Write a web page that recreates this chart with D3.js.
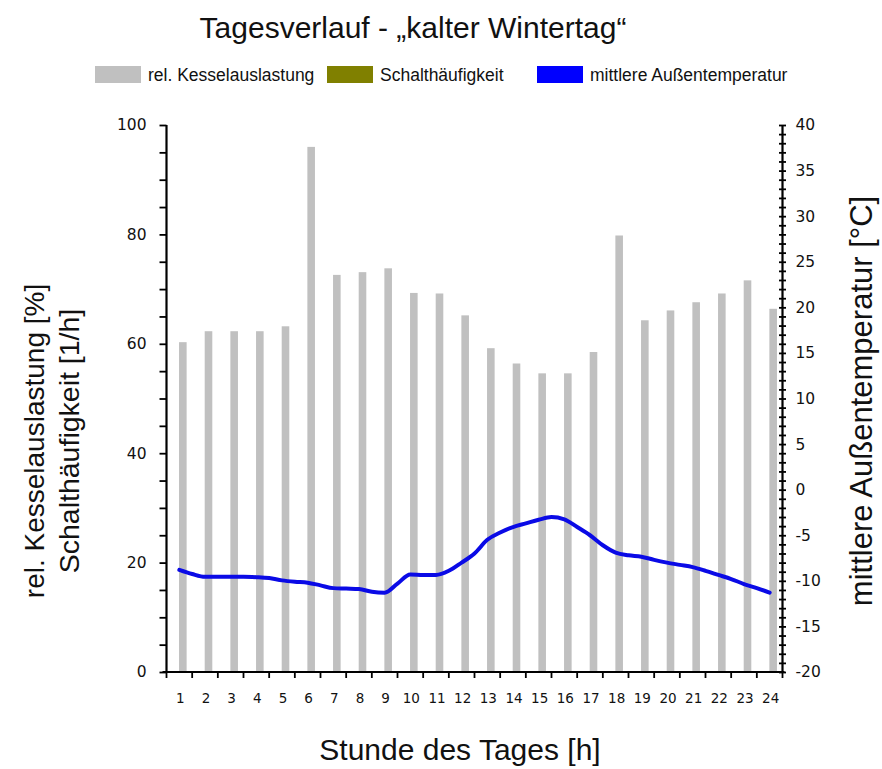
<!DOCTYPE html>
<html>
<head>
<meta charset="utf-8">
<script src="https://cdn.jsdelivr.net/npm/d3@7"></script>
<style>
  html, body { margin: 0; padding: 0; background: #fff; }
  svg { display: block; }
</style>
</head>
<body>
<svg id="chart" width="882" height="769"></svg>
<script>
// ---------- data ----------
const hours = ["1","2","3","4","5","6","7","8","9","10","11","12","13","14","15","16","17","18","19","20","21","22","23","24"];
const kesselauslastung = [60.3, 62.3, 62.3, 62.3, 63.2, 96.0, 72.6, 73.1, 73.8, 69.3, 69.2, 65.2,
                          59.2, 56.4, 54.6, 54.6, 58.5, 79.8, 64.3, 66.1, 67.6, 69.2, 71.6, 66.4];
// mean outside temperature, read every half hour
const tempTime = [1, 1.5, 2, 2.5, 3, 3.5, 4, 4.5, 5, 5.5, 6, 6.5, 7, 7.5, 8, 8.5, 9, 9.5, 10, 10.5, 11, 11.5,
                  12, 12.5, 13, 13.5, 14, 14.5, 15, 15.5, 16, 16.5, 17, 17.5, 18, 18.5, 19, 19.5, 20, 20.5,
                  21, 21.5, 22, 22.5, 23, 23.5, 24];
const temperatur = [-8.8, -9.25, -9.55, -9.55, -9.55, -9.55, -9.6, -9.7, -9.95, -10.1, -10.2, -10.5, -10.8, -10.85,
                    -10.9, -11.2, -11.3, -10.3, -9.3, -9.35, -9.35, -8.9, -8.0, -7.0, -5.5, -4.7, -4.1, -3.7,
                    -3.3, -3.0, -3.25, -4.1, -5.0, -6.1, -6.9, -7.2, -7.35, -7.7, -8.0, -8.25, -8.5, -8.9,
                    -9.35, -9.8, -10.35, -10.8, -11.3];
const leftTicks = [0, 20, 40, 60, 80, 100];
const rightTicks = [-20, -15, -10, -5, 0, 5, 10, 15, 20, 25, 30, 35, 40];
const legendItems = ["rel. Kesselauslastung", "Schalthäufigkeit", "mittlere Außentemperatur"];
const legendColors = ["#c0c0c0", "#808000", "#0000ff"];

// ---------- layout ----------
const svg = d3.select("#chart");
const L = 166.5, R = 782.5, T = 125, B = 672;
const textFont = "'Liberation Sans', Arial, sans-serif";
const tickFont = "'DejaVu Sans', Verdana, sans-serif";

const x = d3.scaleBand().domain(hours).range([L, R]).padding(0);
const xLin = d3.scaleLinear().domain([0.5, 24.5]).range([L, R]);
const yL = d3.scaleLinear().domain([0, 100]).range([B, T]);
const yR = d3.scaleLinear().domain([-20, 40]).range([B, T]);

// ---------- title ----------
svg.append("text").attr("x", 413).attr("y", 38).attr("text-anchor", "middle")
  .attr("font-family", textFont).attr("font-size", 30).attr("fill", "#111")
  .text("Tagesverlauf - „kalter Wintertag“");

// ---------- legend ----------
const legX = [95, 327, 537];
legendItems.forEach((t, i) => {
  svg.append("rect").attr("x", legX[i]).attr("y", 66).attr("width", 46).attr("height", 17)
    .attr("fill", legendColors[i]);
  svg.append("text").attr("x", legX[i] + 53).attr("y", 81)
    .attr("font-family", textFont).attr("font-size", 17.5).attr("fill", "#111").text(t);
});

// ---------- bars ----------
const barW = 7.6;
svg.append("g").selectAll("rect").data(kesselauslastung).join("rect")
  .attr("x", (d, i) => x(hours[i]) + x.bandwidth() / 2 - barW / 2 + 3.5)
  .attr("y", d => yL(d))
  .attr("width", barW)
  .attr("height", d => yL(0) - yL(d))
  .attr("fill", "#c0c0c0");

// ---------- temperature line ----------
const line = d3.line().x((d, i) => xLin(tempTime[i])).y(d => yR(d)).curve(d3.curveMonotoneX);
svg.append("path").datum(temperatur).attr("d", line)
  .attr("fill", "none").attr("stroke", "#0a0ae6").attr("stroke-width", 4)
  .attr("stroke-linejoin", "round").attr("stroke-linecap", "round");

// ---------- left axis ----------
const gL = svg.append("g").attr("transform", `translate(${L},0)`)
  .call(d3.axisLeft(yL).tickValues(d3.range(0, 101, 5)).tickSize(7).tickPadding(13)
    .tickFormat(d => leftTicks.includes(d) ? d : ""));
gL.select(".domain").attr("d", `M0,${T}V${B}`).attr("stroke-width", 2.2);
gL.selectAll(".tick line").attr("stroke-width", 1.8);
gL.selectAll("text").attr("font-family", tickFont).attr("font-size", 15.5).attr("fill", "#111");

// ---------- right axis ----------
const gR = svg.append("g").attr("transform", `translate(${R},0)`)
  .call(d3.axisRight(yR).tickValues(d3.range(-20, 41, 1)).tickSize(4).tickPadding(9)
    .tickFormat(d => rightTicks.includes(d) ? d : ""));
gR.select(".domain").attr("d", `M0,${T}V${B}`).attr("stroke-width", 2.2);
gR.selectAll(".tick line").attr("x1", -3.5).attr("x2", 3.5).attr("stroke-width", 1.8);
gR.selectAll("text").attr("font-family", tickFont).attr("font-size", 15.5).attr("fill", "#111");

// ---------- x axis ----------
const gX = svg.append("g").attr("transform", `translate(0,${B})`);
gX.append("line").attr("x1", L - 4).attr("x2", R + 2).attr("y1", 0).attr("y2", 0)
  .attr("stroke", "#000").attr("stroke-width", 2.2);
const bounds = [L].concat(hours.map(h => x(h) + x.bandwidth()));
gX.selectAll("line.tk").data(bounds).join("line").attr("class", "tk")
  .attr("x1", d => d).attr("x2", d => d).attr("y1", 0).attr("y2", 6)
  .attr("stroke", "#000").attr("stroke-width", 1.8);
gX.selectAll("text").data(hours).join("text")
  .attr("x", d => x(d) + x.bandwidth() / 2 + 1).attr("y", 31)
  .attr("text-anchor", "middle").attr("font-family", tickFont).attr("font-size", 13.5)
  .attr("fill", "#111").text(d => d);

// ---------- axis titles ----------
svg.append("text").attr("transform", "translate(44,441) rotate(-90)").attr("text-anchor", "middle")
  .attr("font-family", textFont).attr("font-size", 28).attr("fill", "#111")
  .text("rel. Kesselauslastung [%]");
svg.append("text").attr("transform", "translate(79,441) rotate(-90)").attr("text-anchor", "middle")
  .attr("font-family", textFont).attr("font-size", 28.5).attr("fill", "#111")
  .text("Schalthäufigkeit [1/h]");
svg.append("text").attr("transform", "translate(872,401) rotate(-90)").attr("text-anchor", "middle")
  .attr("font-family", textFont).attr("font-size", 31).attr("fill", "#111")
  .text("mittlere Außentemperatur [°C]");
svg.append("text").attr("x", 460).attr("y", 760).attr("text-anchor", "middle")
  .attr("font-family", textFont).attr("font-size", 30).attr("fill", "#111")
  .text("Stunde des Tages [h]");
</script>
</body>
</html>
